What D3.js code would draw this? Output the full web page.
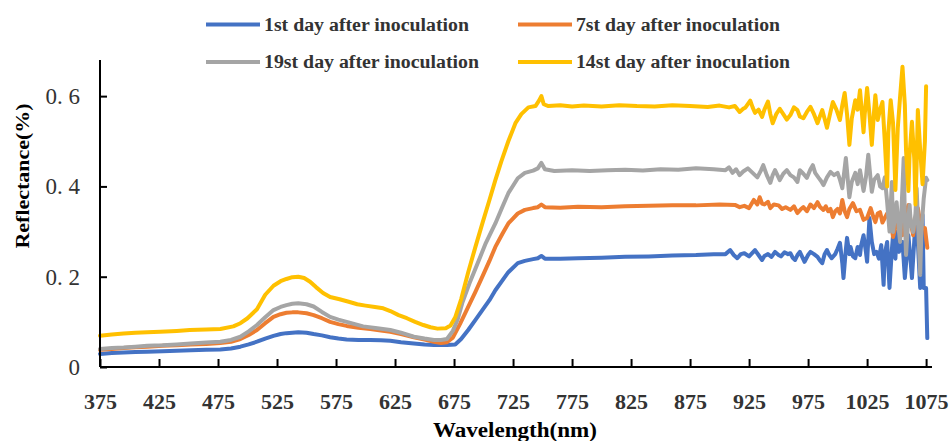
<!DOCTYPE html>
<html>
<head>
<meta charset="utf-8">
<script src="https://cdn.jsdelivr.net/npm/d3@7"></script>
<style>
  body { margin: 0; background: #fff; }
  svg { display: block; }
  .axis path, .axis line { stroke: #000; stroke-width: 2; }
  .axis text { fill: #333; }
</style>
</head>
<body>
<script>
// series names, in legend order
var seriesNames = ["1st day after inoculation", "7st day after inoculation",
                   "19st day after inoculation", "14st day after inoculation"];
var seriesColors = ["#4472C4", "#ED7D31", "#A5A5A5", "#FFC000"];

var xTicks = [375, 425, 475, 525, 575, 625, 675, 725, 775, 825, 875, 925, 975, 1025, 1075];
var yTicks = [0, 0.2, 0.4, 0.6];
var yTickLabels = ["0", "0. 2", "0. 4", "0. 6"];

// [wavelength nm, reflectance]
var day1 = [[375,0.029],[385,0.031],[395,0.032],[405,0.033],[415,0.034],[428,0.035],[440,0.036],[452,0.037],[465,0.038],[477,0.039],
  [486,0.041],[494,0.045],[501,0.050],[508,0.056],[515,0.063],[522,0.069],[528,0.073],[533,0.075],[538,0.076],[543,0.077],[550,0.076],
  [556,0.073],[563,0.070],[570,0.066],[577,0.063],[584,0.061],[594,0.060],[604,0.060],[613,0.059],[621,0.058],[630,0.055],[641,0.052],
  [650,0.050],[658,0.049],[669,0.049],[676,0.050],[681,0.062],[687,0.082],[693,0.104],[699,0.126],[705,0.148],[710,0.170],[716,0.192],
  [721,0.210],[729,0.230],[735,0.235],[742,0.239],[746,0.241],[749,0.246],[752,0.240],[765,0.240],[780,0.241],[800,0.242],[820,0.244],
  [840,0.245],[860,0.247],[880,0.248],[895,0.250],[905,0.250],[909,0.259],[912,0.248],[915,0.241],[918,0.250],[921,0.252],[925,0.245],
  [930,0.259],[933,0.248],[936,0.237],[938,0.246],[941,0.250],[944,0.244],[947,0.255],[950,0.248],[952,0.245],[955,0.254],[958,0.250],
  [960,0.252],[962,0.242],[964,0.237],[966,0.248],[968,0.255],[970,0.244],[972,0.233],[975,0.248],[977,0.255],[980,0.250],[983,0.244],
  [985,0.236],[987,0.230],[989,0.250],[991,0.259],[993,0.248],[995,0.241],[998,0.250],[1000,0.262],[1002,0.275],[1004,0.230],
  [1005,0.197],[1007,0.260],[1008,0.286],[1010,0.250],[1011,0.266],[1013,0.245],[1015,0.241],[1017,0.266],[1019,0.248],[1020,0.270],
  [1022,0.292],[1024,0.255],[1025,0.233],[1027,0.330],[1029,0.277],[1031,0.250],[1033,0.255],[1035,0.240],[1037,0.270],[1039,0.182],
  [1040,0.250],[1042,0.277],[1044,0.175],[1046,0.260],[1047,0.292],[1049,0.240],[1050,0.299],[1052,0.255],[1055,0.277],[1057,0.197],
  [1059,0.260],[1060,0.292],[1062,0.230],[1063,0.197],[1065,0.280],[1066,0.321],[1068,0.277],[1070,0.175],[1072,0.337],[1073,0.175],
  [1075,0.175],[1076,0.064]];

var day7 = [[375,0.038],[385,0.040],[395,0.042],[405,0.044],[415,0.045],[428,0.047],[440,0.048],[452,0.050],[465,0.051],[477,0.053],
  [486,0.056],[494,0.062],[501,0.071],[508,0.082],[515,0.097],[522,0.111],[528,0.117],[533,0.120],[538,0.121],[543,0.121],[550,0.119],
  [556,0.115],[563,0.108],[570,0.100],[577,0.095],[584,0.091],[594,0.087],[604,0.084],[613,0.081],[621,0.078],[630,0.073],[641,0.066],
  [650,0.061],[658,0.056],[664,0.053],[669,0.055],[674,0.065],[680,0.095],[687,0.133],[693,0.166],[699,0.200],[705,0.235],[710,0.266],
  [716,0.295],[721,0.318],[729,0.340],[735,0.348],[742,0.352],[746,0.354],[749,0.360],[752,0.354],[765,0.353],[780,0.355],[800,0.354],
  [820,0.356],[840,0.357],[860,0.358],[880,0.358],[900,0.360],[913,0.359],[917,0.354],[921,0.357],[925,0.352],[929,0.370],[932,0.360],
  [934,0.376],[936,0.362],[938,0.360],[941,0.366],[943,0.352],[946,0.360],[950,0.358],[953,0.350],[956,0.354],[960,0.348],[963,0.356],
  [966,0.341],[969,0.350],[971,0.354],[974,0.345],[977,0.360],[980,0.352],[983,0.365],[985,0.355],[988,0.348],[990,0.356],[992,0.345],
  [994,0.350],[996,0.332],[998,0.345],[1000,0.350],[1002,0.340],[1004,0.370],[1006,0.345],[1008,0.332],[1010,0.350],[1013,0.363],
  [1016,0.345],[1019,0.348],[1022,0.326],[1025,0.330],[1028,0.352],[1030,0.335],[1032,0.321],[1034,0.340],[1036,0.343],[1038,0.320],
  [1040,0.330],[1042,0.340],[1045,0.321],[1047,0.288],[1049,0.310],[1051,0.321],[1053,0.300],[1055,0.292],[1057,0.330],[1060,0.359],
  [1062,0.320],[1064,0.292],[1066,0.330],[1068,0.352],[1070,0.320],[1072,0.308],[1074,0.308],[1076,0.264]];

var day19 = [[375,0.040],[385,0.042],[395,0.043],[405,0.045],[415,0.047],[428,0.048],[440,0.050],[452,0.052],[465,0.054],[477,0.056],
  [486,0.060],[494,0.067],[501,0.079],[508,0.093],[515,0.110],[522,0.126],[528,0.133],[533,0.137],[538,0.140],[543,0.141],[550,0.139],
  [556,0.134],[563,0.122],[570,0.111],[577,0.105],[584,0.100],[591,0.095],[598,0.090],[610,0.086],[621,0.082],[630,0.076],[641,0.067],
  [650,0.063],[658,0.060],[664,0.060],[669,0.062],[674,0.080],[678,0.105],[682,0.142],[688,0.185],[695,0.230],[702,0.275],[710,0.318],
  [716,0.355],[721,0.385],[729,0.418],[735,0.430],[742,0.435],[746,0.440],[749,0.452],[752,0.438],[760,0.434],[775,0.436],[790,0.434],
  [805,0.436],[820,0.437],[835,0.435],[850,0.438],[865,0.437],[880,0.440],[895,0.438],[905,0.436],[908,0.442],[911,0.430],[914,0.438],
  [917,0.425],[920,0.433],[924,0.440],[928,0.430],[932,0.420],[935,0.435],[937,0.447],[940,0.425],[943,0.408],[945,0.425],[947,0.436],
  [949,0.425],[951,0.414],[954,0.428],[957,0.436],[960,0.425],[963,0.420],[966,0.410],[968,0.436],[971,0.428],[974,0.419],[977,0.438],
  [979,0.447],[981,0.430],[984,0.419],[986,0.412],[988,0.403],[991,0.420],[994,0.432],[997,0.425],[1000,0.430],[1002,0.415],[1004,0.396],
  [1007,0.463],[1010,0.376],[1012,0.410],[1015,0.430],[1017,0.405],[1019,0.436],[1022,0.390],[1024,0.420],[1026,0.470],[1029,0.388],
  [1031,0.415],[1034,0.425],[1036,0.400],[1038,0.396],[1040,0.420],[1042,0.365],[1044,0.300],[1046,0.410],[1047,0.299],[1049,0.340],
  [1050,0.365],[1052,0.300],[1053,0.277],[1055,0.400],[1056,0.463],[1057,0.330],[1058,0.248],[1060,0.330],[1061,0.359],[1062,0.320],
  [1064,0.299],[1066,0.340],[1067,0.396],[1068,0.330],[1070,0.204],[1071,0.300],[1073,0.374],[1075,0.419],[1076,0.414]];

var day14 = [[375,0.069],[385,0.072],[395,0.074],[405,0.076],[415,0.077],[426,0.078],[440,0.080],[451,0.082],[465,0.083],[477,0.084],
  [488,0.090],[494,0.097],[500,0.108],[508,0.128],[515,0.160],[522,0.180],[528,0.190],[533,0.195],[538,0.199],[543,0.200],[548,0.197],
  [553,0.189],[558,0.177],[564,0.164],[570,0.155],[578,0.150],[585,0.145],[593,0.139],[600,0.136],[608,0.133],[615,0.130],[621,0.124],
  [628,0.115],[635,0.108],[642,0.100],[649,0.093],[655,0.088],[661,0.085],[668,0.086],[672,0.092],[676,0.110],[681,0.150],[687,0.210],
  [693,0.265],[699,0.318],[705,0.370],[710,0.414],[715,0.455],[721,0.500],[727,0.540],[732,0.560],[738,0.575],[744,0.578],[747,0.590],
  [749,0.600],[751,0.582],[755,0.578],[765,0.580],[775,0.577],[785,0.579],[800,0.577],[815,0.580],[830,0.578],[845,0.577],[860,0.580],
  [875,0.578],[890,0.576],[900,0.579],[908,0.575],[913,0.578],[917,0.565],[920,0.572],[922,0.575],[926,0.590],[928,0.575],[930,0.563],
  [933,0.570],[936,0.554],[938,0.570],[941,0.588],[943,0.560],[945,0.540],[948,0.560],[951,0.572],[954,0.560],[957,0.548],[960,0.558],
  [963,0.575],[966,0.569],[968,0.555],[971,0.551],[974,0.565],[977,0.576],[980,0.560],[983,0.540],[985,0.555],[987,0.569],[989,0.550],
  [991,0.530],[994,0.565],[996,0.587],[999,0.570],[1002,0.547],[1004,0.580],[1006,0.607],[1008,0.560],[1010,0.492],[1012,0.550],
  [1015,0.591],[1017,0.570],[1019,0.613],[1022,0.520],[1023,0.560],[1025,0.618],[1027,0.560],[1029,0.492],[1031,0.570],[1032,0.602],
  [1034,0.547],[1036,0.570],[1038,0.587],[1040,0.500],[1042,0.400],[1043,0.520],[1045,0.591],[1047,0.540],[1049,0.392],[1051,0.529],
  [1053,0.600],[1055,0.665],[1057,0.580],[1058,0.480],[1060,0.390],[1061,0.470],[1063,0.543],[1065,0.460],[1066,0.360],[1067,0.450],
  [1068,0.569],[1070,0.480],[1072,0.405],[1074,0.500],[1075,0.622]];

var allSeries = [day1, day7, day19, day14];

var width = 951, height = 441;
var svg = d3.select("body").append("svg").attr("width", width).attr("height", height);
svg.append("rect").attr("width", width).attr("height", height).attr("fill", "#fff");

var x = d3.scaleLinear().domain([375, 1080]).range([100, 932]);
var y = d3.scaleLinear().domain([0, 0.68]).range([367, 60]);

// lines
var line = d3.line()
    .x(function(d){ return x(d[0]); })
    .y(function(d){ return y(d[1]); });

allSeries.forEach(function(s, i) {
    svg.append("path")
        .attr("d", line(s))
        .attr("fill", "none")
        .attr("stroke", seriesColors[i])
        .attr("stroke-width", 4)
        .attr("stroke-linejoin", "round")
        .attr("stroke-linecap", "round");
});

// axes
var xAxis = d3.axisBottom(x).tickValues(xTicks).tickSizeInner(-8).tickSizeOuter(0).tickPadding(26)
    .tickFormat(d3.format("d"));
var gx = svg.append("g").attr("class", "axis").attr("transform", "translate(0,367)").call(xAxis);
gx.selectAll("text").attr("font-family", "'Liberation Serif', serif").attr("font-size", 22)
    .attr("font-weight", "bold");

var yAxis = d3.axisLeft(y).tickValues(yTicks).tickSizeInner(-7).tickSizeOuter(0).tickPadding(20)
    .tickFormat(function(d, i){ return yTickLabels[i]; });
var gy = svg.append("g").attr("class", "axis").attr("transform", "translate(100,0)").call(yAxis);
gy.selectAll("text").attr("font-family", "'Liberation Serif', serif").attr("font-size", 23);
gy.select(".domain").attr("d", "M0,60V367");
gx.select(".domain").attr("d", "M100,0H932");

// axis titles
svg.append("text")
    .attr("transform", "translate(29,176) rotate(-90)")
    .attr("text-anchor", "middle")
    .attr("font-family", "'Liberation Serif', serif").attr("font-weight", "bold").attr("font-size", 18)
    .attr("textLength", 145).attr("lengthAdjust", "spacingAndGlyphs")
    .attr("fill", "#000")
    .text("Reflectance(%)");

svg.append("text")
    .attr("x", 515).attr("y", 437)
    .attr("text-anchor", "middle")
    .attr("font-family", "'Liberation Serif', serif").attr("font-weight", "bold").attr("font-size", 20)
    .attr("textLength", 164).attr("lengthAdjust", "spacingAndGlyphs")
    .attr("fill", "#000")
    .text("Wavelength(nm)");

// legend
var legendPos = [[206, 24.5, 205], [518, 24.5, 204], [206, 62, 215], [518, 62, 214]];
seriesNames.forEach(function(name, i) {
    var p = legendPos[i];
    var g = svg.append("g").attr("transform", "translate(" + p[0] + "," + p[1] + ")");
    g.append("line").attr("x1", 0).attr("x2", 54).attr("y1", 0).attr("y2", 0)
        .attr("stroke", seriesColors[i]).attr("stroke-width", 4);
    g.append("text").attr("x", 58).attr("y", 6.3)
        .attr("font-family", "'Liberation Serif', serif").attr("font-weight", "bold").attr("font-size", 18)
        .attr("textLength", p[2]).attr("lengthAdjust", "spacingAndGlyphs")
        .attr("fill", "#333")
        .text(name);
});
</script>
</body>
</html>
